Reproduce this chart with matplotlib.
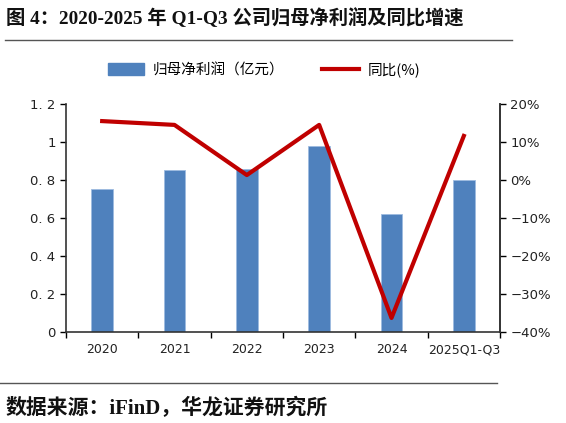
import matplotlib
matplotlib.use("Agg")
import matplotlib.pyplot as plt
import numpy as np
from matplotlib.lines import Line2D
from matplotlib.patches import Patch

plt.rcParams['font.family'] = ['DejaVu Sans', 'Noto Sans CJK SC']

categories = ["2020", "2021", "2022", "2023", "2024", "2025Q1-Q3"]
profit = [0.75, 0.85, 0.86, 0.98, 0.62, 0.80]
yoy = [15.5, 14.5, 1.3, 14.5, -36.3, 11.6]
left_ticks = [0, 0.2, 0.4, 0.6, 0.8, 1.0, 1.2]
left_labels = ["0", "0. 2", "0. 4", "0. 6", "0. 8", "1", "1. 2"]
right_ticks = [-40, -30, -20, -10, 0, 10, 20]

fig = plt.figure(figsize=(5.66, 4.23), dpi=100)
ax = fig.add_axes([66/566, 1-332/423, 434/566, 228/423])
x = np.arange(len(categories))
ax.bar(x, profit, width=0.3, color="#4f81bd", edgecolor="#9dbbe0", linewidth=0.6, zorder=2)
ax.set_xlim(-0.5, len(categories)-0.5)
ax.set_ylim(0, 1.2)
ax.set_yticks(left_ticks)
ax.set_yticklabels(left_labels, fontsize=9.5, color="#222222")
ax.set_xticks(x)
ax.set_xticklabels(categories, fontsize=9, color="#222222")
ax.tick_params(axis='x', length=0, pad=8)
ax.set_xticks(np.arange(-0.5, len(categories)), minor=True)
ax.tick_params(axis='x', which='minor', length=4, direction='out', width=1)
ax.tick_params(axis='y', length=4, direction='out', width=1)
for s in ['top']:
    ax.spines[s].set_visible(False)
for s in ['left', 'bottom', 'right']:
    ax.spines[s].set_color("#333333")
    ax.spines[s].set_linewidth(1.2)

ax2 = ax.twinx()
ax2.plot(x, yoy, color="#c00000", linewidth=3, zorder=3)
ax2.set_ylim(-40, 20)
ax2.set_yticks(right_ticks)
ax2.set_yticklabels([f"{t}%".replace("-", "\u2212") for t in right_ticks], fontsize=9.5, color="#222222")
ax2.tick_params(axis='y', length=4, direction='out', width=1)
ax2.spines['top'].set_visible(False)
ax2.spines['right'].set_color("#333333")
ax2.spines['right'].set_linewidth(1.2)
ax2.spines['left'].set_visible(False)
ax2.spines['bottom'].set_visible(False)

handles = [Patch(facecolor="#4f81bd", edgecolor="#4f81bd"),
           Line2D([0], [0], color="#c00000", linewidth=3)]
fig.legend(handles, ["归母净利润（亿元）", "同比(%)"], loc='center',
           bbox_to_anchor=(264/566, 1-70/423), ncol=2, frameon=False,
           prop={'family': ['Noto Sans CJK SC'], 'size': 10.5},
           handlelength=2.5, handleheight=0.9, columnspacing=2.6, handletextpad=0.6)

fig.text(6/566, 1-18/423, "图 4：2020-2025 年 Q1-Q3 公司归母净利润及同比增速",
         fontsize=13.9, fontweight='bold', family=['Liberation Serif', 'Noto Sans CJK SC'],
         va='center', ha='left', color="#111111")
fig.add_artist(Line2D([5/566, 512/566], [1-40/423, 1-40/423], color="#555555", linewidth=1))
fig.add_artist(Line2D([0/566, 497/566], [1-383/423, 1-383/423], color="#555555", linewidth=1))
fig.text(6/566, 1-408/423, "数据来源：iFinD，华龙证券研究所",
         fontsize=15, fontweight='bold', family=['Liberation Serif', 'Noto Sans CJK SC'],
         va='center', ha='left', color="#111111")

fig.savefig("out.png", dpi=100)
